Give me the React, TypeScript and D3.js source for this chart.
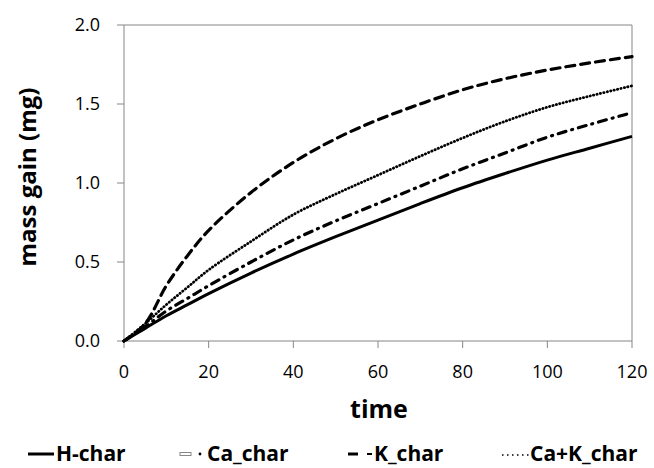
import React from "react";
import * as d3 from "d3";

// time (x) and mass gain (mg) for each char sample
const time = [0, 5, 10, 15, 20, 30, 40, 50, 60, 70, 80, 90, 100, 110, 120];
const hChar = [0, 0.08, 0.16, 0.23, 0.3, 0.43, 0.55, 0.66, 0.765, 0.87, 0.97, 1.06, 1.145, 1.22, 1.295];
const caChar = [0, 0.09, 0.19, 0.27, 0.35, 0.5, 0.64, 0.76, 0.87, 0.98, 1.09, 1.19, 1.29, 1.37, 1.445];
const kChar = [0, 0.11, 0.35, 0.54, 0.7, 0.94, 1.13, 1.28, 1.4, 1.5, 1.59, 1.66, 1.715, 1.76, 1.8];
const caKChar = [0, 0.11, 0.23, 0.34, 0.45, 0.63, 0.8, 0.93, 1.05, 1.17, 1.285, 1.39, 1.48, 1.55, 1.615];

const xTicks = [0, 20, 40, 60, 80, 100, 120];
const yTicks = [0, 0.5, 1.0, 1.5, 2.0];

const series = [
  { name: "H-char", values: hChar, dash: null, width: 3 },
  { name: "Ca_char", values: caChar, dash: "8,6,1,6", width: 3.2 },
  { name: "K_char", values: kChar, dash: "9,6", width: 3.2 },
  { name: "Ca+K_char", values: caKChar, dash: "0.3,3.2", width: 2.8 },
];

const W = 654;
const H = 468;
const margin = { top: 25, right: 22, bottom: 127, left: 124 };
const FONT = "'Open Sans', 'DejaVu Sans', sans-serif";
const AXIS = "#868686";

export default function App() {
  const x = d3.scaleLinear().domain([0, 120]).range([margin.left, W - margin.right]);
  const y = d3.scaleLinear().domain([0, 2]).range([H - margin.bottom, margin.top]);

  const line = d3
    .line<number>()
    .x((_, i) => x(time[i]))
    .y((d) => y(d))
    .curve(d3.curveCatmullRom.alpha(0.5));

  const x0 = x(0), x1 = x(120), y0 = y(0), y1 = y(2);

  return (
    <svg width={W} height={H} style={{ position: "absolute", left: 0, top: 0, background: "#fff" }}>
      {/* plot frame */}
      <line x1={x0} x2={x0} y1={y1} y2={y0} stroke={AXIS} strokeWidth={1} />
      <line x1={x0} x2={x1} y1={y0} y2={y0} stroke={AXIS} strokeWidth={1} />
      <line x1={x0} x2={x1} y1={y1} y2={y1} stroke={AXIS} strokeWidth={1} />
      <line x1={x1} x2={x1} y1={y1} y2={y0} stroke={AXIS} strokeWidth={1} />

      {/* y axis */}
      {yTicks.map((t) => (
        <g key={"y" + t}>
          <line x1={x0 - 7} x2={x0} y1={y(t)} y2={y(t)} stroke={AXIS} />
          <text x={100} y={y(t)} dy="0.36em" textAnchor="end" fontFamily={FONT} fontSize={18} fill="#000">
            {t.toFixed(1)}
          </text>
        </g>
      ))}

      {/* x axis */}
      {xTicks.map((t) => (
        <g key={"x" + t}>
          <line x1={x(t)} x2={x(t)} y1={y0} y2={y0 + 7} stroke={AXIS} />
          <text x={x(t)} y={378} textAnchor="middle" fontFamily={FONT} fontSize={18} fill="#000">
            {t}
          </text>
        </g>
      ))}

      {/* series */}
      {series.map((s) => (
        <path
          key={s.name}
          d={line(s.values) || ""}
          fill="none"
          stroke="#000"
          strokeWidth={s.width}
          strokeDasharray={s.dash || undefined}
          strokeLinecap={s.dash ? "round" : "butt"}
        />
      ))}

      {/* axis titles */}
      <text x={379} y={418} textAnchor="middle" fontFamily={FONT} fontSize={25} fontWeight="bold">
        time
      </text>
      <text
        transform="translate(36,177) rotate(-90)"
        textAnchor="middle"
        fontFamily={FONT}
        fontSize={24}
        fontWeight="bold"
      >
        mass gain (mg)
      </text>

      {/* legend */}
      <g fontFamily={FONT} fontSize={21} fontWeight="bold">
        <line x1={28} x2={54} y1={454} y2={454} stroke="#000" strokeWidth={3} />
        <text x={56} y={461}>H-char</text>

        <rect x={180} y={452.5} width={11} height={3} fill="none" stroke="#888" strokeWidth={1} />
        <circle cx={200} cy={454} r={1.4} fill="#000" />
        <text x={207} y={461}>Ca_char</text>

        <line x1={348} x2={358} y1={454} y2={454} stroke="#000" strokeWidth={3} />
        <line x1={367} x2={372} y1={454} y2={454} stroke="#000" strokeWidth={2} />
        <text x={374} y={461}>K_char</text>

        <line x1={502} x2={529} y1={455} y2={455} stroke="#000" strokeWidth={1.6} strokeDasharray="1.5,3.5" />
        <text x={530} y={461}>Ca+K_char</text>
      </g>
    </svg>
  );
}
